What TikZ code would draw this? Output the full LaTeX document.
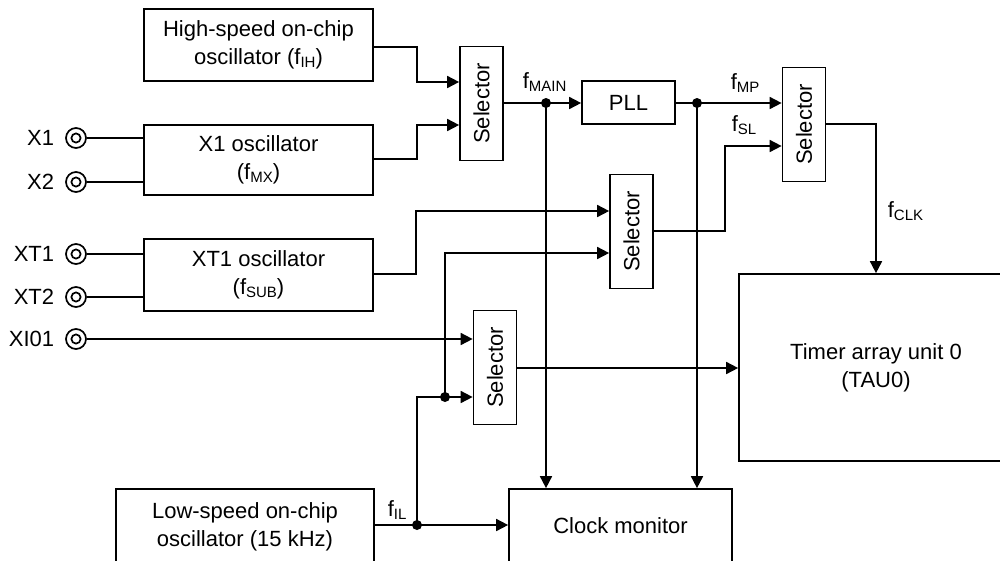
\documentclass[tikz,border=0pt]{standalone}
\usepackage{fontspec}
\setmainfont{Liberation Sans}
\usetikzlibrary{arrows.meta}
\newcommand\fsub[1]{f\raisebox{-3pt}{\fontsize{15}{15}\selectfont #1}}
\begin{document}
\begin{tikzpicture}[x=1pt,y=-1pt, line width=1.7pt,
  box/.style={draw, rectangle, inner sep=0pt, align=center, font=\fontsize{22}{28}\selectfont},
  selbox/.style={draw, rectangle, inner sep=0pt, minimum width=43pt, minimum height=114pt},
  seltext/.style={rotate=90, inner sep=0pt, font=\fontsize{22}{26}\selectfont},
  arr/.style={-{Triangle[length=12pt,width=12pt]}},
  term/.style={draw, circle, inner sep=0pt, minimum size=20pt,
    path picture={\draw[line width=1.7pt] (path picture bounding box.center) circle (4.6pt);}},
  termlbl/.style={anchor=east, inner sep=0pt, font=\fontsize{22}{26}\selectfont},
  lbl/.style={anchor=base west, inner sep=0pt, font=\fontsize{22}{26}\selectfont},
  jdot/.style={circle, fill, inner sep=0pt, minimum size=10pt}
]
\clip (0,0) rectangle (1000,560);

% oscillator and other boxes
\node[box, minimum width=229pt, minimum height=72pt] (hs) at (258.5,45) {High-speed on-chip\\oscillator (\fsub{IH})};
\node[box, minimum width=229pt, minimum height=70pt] (x1o) at (258.5,160) {X1 oscillator\\(\fsub{MX})};
\node[box, minimum width=229pt, minimum height=72pt] (xt1o) at (258.5,275) {XT1 oscillator\\(\fsub{SUB})};
\node[box, minimum width=258pt, minimum height=76pt] (lso) at (245,527) {Low-speed on-chip\\oscillator (15 kHz)};
\node[box, minimum width=223pt, minimum height=74pt] (cm) at (620.5,526) {Clock monitor};
\node[box, minimum width=274pt, minimum height=187pt] (tau) at (876,367.5) {Timer array unit 0\\(TAU0)};
\node[box, minimum width=93pt, minimum height=43pt] (pll) at (628.5,102.5) {PLL};

% selectors
\node[selbox] (s1) at (481.5,103.5) {};
\node[seltext] (s1t) at (s1) {Selector};
\node[selbox] (s2) at (631.5,231.5) {};
\node[seltext] (s2t) at (s2) {Selector};
\node[selbox] (s3) at (804,124.5) {};
\node[seltext] (s3t) at (s3) {Selector};
\node[selbox] (s4) at (495,367.5) {};
\node[seltext] (s4t) at (s4) {Selector};

% terminals
\node[term] (tx1) at (76,138) {};
\node[term] (tx2) at (76,182) {};
\node[term] (txt1) at (76,254) {};
\node[term] (txt2) at (76,297) {};
\node[term] (txi) at (76,339) {};
\node[termlbl] (lx1) at (55,138) {X1};
\node[termlbl] (lx2) at (55,182) {X2};
\node[termlbl] (lxt1) at (55,254) {XT1};
\node[termlbl] (lxt2) at (55,297) {XT2};
\node[termlbl] (lxi) at (55,339) {XI01};

% junctions
\coordinate (dm) at (546,103);
\coordinate (dp) at (697,103);
\coordinate (dl) at (417,525);
\coordinate (ds) at (445,397);

% terminal lines
\draw (tx1) -- (tx1 -| x1o.west);
\draw (tx2) -- (tx2 -| x1o.west);
\draw (txt1) -- (txt1 -| xt1o.west);
\draw (txt2) -- (txt2 -| xt1o.west);
\draw[arr] (txi) -- (txi -| s4.west);

% clock paths
\draw[arr] (hs.east |- 0,47) -- (417,47) -- (417,82) -- (s1.west |- 0,82);
\draw[arr] (x1o.east |- 0,159) -- (417,159) -- (417,125) -- (s1.west |- 0,125);
\draw[arr] (s1.east |- dm) -- (pll.west |- dm);
\draw[arr] (dm) -- (dm |- cm.north);
\draw[arr] (pll.east |- dp) -- (s3.west |- dp);
\draw[arr] (dp) -- (dp |- cm.north);
\draw[arr] (s2.east |- 0,231) -- (725,231) -- (725,146) -- (s3.west |- 0,146);
\draw[arr] (s3.east |- 0,124) -| (tau.north);
\draw[arr] (xt1o.east |- 0,274) -- (416,274) -- (416,211) -- (s2.west |- 0,211);
\draw[arr] (lso.east |- dl) -- (cm.west |- dl);
\draw[arr] (dl) -- (dl |- ds) -- (s4.west |- ds);
\draw[arr] (ds) -- (445,253) -- (s2.west |- 0,253);
\draw[arr] (s4.east |- 0,368) -- (tau.west |- 0,368);

\node[jdot] (jm) at (dm) {};
\node[jdot] (jp) at (dp) {};
\node[jdot] (jl) at (dl) {};
\node[jdot] (js) at (ds) {};

% signal labels
\node[lbl] (lmain) at (522,88) {\fsub{MAIN}};
\node[lbl] (lmp) at (730,89) {\fsub{MP}};
\node[lbl] (lsl) at (731,131) {\fsub{SL}};
\node[lbl] (lclk) at (887,217) {\fsub{CLK}};
\node[lbl] (lil) at (387,516) {\fsub{IL}};
\end{tikzpicture}
\end{document}
